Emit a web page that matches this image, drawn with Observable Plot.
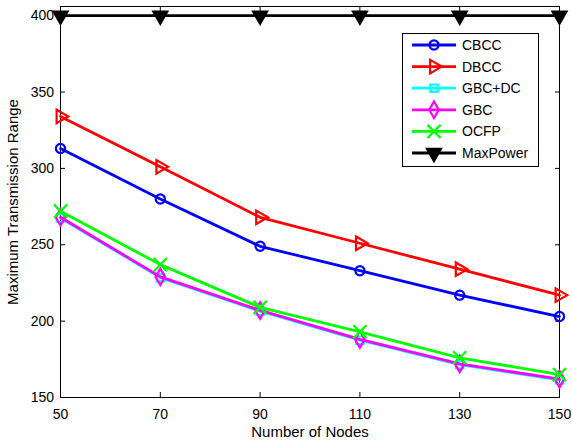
<!DOCTYPE html>
<html>
<head>
<meta charset="utf-8">
<script src="https://cdn.jsdelivr.net/npm/d3@7"></script>
<script src="https://cdn.jsdelivr.net/npm/@observablehq/plot@0.6"></script>
<style>
  body { margin: 0; background: #fff; }
  #chart svg { display: block; }
</style>
</head>
<body>
<div id="chart"></div>
<script>
// Number of nodes on the x axis
const nodes = [50, 70, 90, 110, 130, 150];
// Maximum transmission range per algorithm
const cbcc     = [313, 280, 249, 233, 217, 203];
const dbcc     = [334, 301, 268, 251, 234, 217];
const gbcdc    = [267.5, 228.5, 206.5, 187.5, 171.5, 161.5];
const gbc      = [268, 229, 207, 188, 172, 162];
const ocfp     = [272, 237, 209, 193, 176, 165];
const maxPower = [400, 400, 400, 400, 400, 400];
const yTicks   = [150, 200, 250, 300, 350, 400];

const series = [
  {name: "CBCC",     values: cbcc,     color: "#0000ff", symbol: "circle",   rotate: 0,   fill: "none",    r: 4.6},
  {name: "DBCC",     values: dbcc,     color: "#ff0000", symbol: "triangle", rotate: 90,  fill: "none",    r: 5.0},
  {name: "GBC+DC",   values: gbcdc,    color: "#00ffff", symbol: "square",   rotate: 0,   fill: "none",    r: 4.2},
  {name: "GBC",      values: gbc,      color: "#ff00ff", symbol: "diamond",  rotate: 0,   fill: "none",    r: 5.0},
  {name: "OCFP",     values: ocfp,     color: "#00ff00", symbol: "times",    rotate: 0,   fill: "none",    r: 6.0},
  {name: "MaxPower", values: maxPower, color: "#000000", symbol: "triangle", rotate: 180, fill: "#000000", r: 5.2}
];

const font = "'Liberation Sans', Arial, Helvetica, sans-serif";
const lineWidth = 2.8;

const seriesMarks = series.flatMap(s => {
  const rows = nodes.map((n, i) => ({nodes: n, value: s.values[i]}));
  return [
    Plot.line(rows, {x: "nodes", y: "value", stroke: s.color, strokeWidth: lineWidth}),
    Plot.dot(rows, {
      x: "nodes", y: "value", symbol: () => s.symbol, r: s.r,
      rotate: s.rotate, stroke: s.color, fill: s.fill, strokeWidth: 2.2
    })
  ];
});

const chart = Plot.plot({
  width: 572,
  height: 440,
  marginLeft: 60,
  marginRight: 13,
  marginTop: 6,
  marginBottom: 43,
  style: {fontFamily: font, fontSize: "14px", color: "#000", background: "#fff"},
  x: {domain: [50, 150]},
  y: {domain: [150, 406]},
  marks: [
    Plot.frame({stroke: "#000", strokeWidth: 1}),
    // tick labels
    Plot.axisX(nodes, {tickSize: 0, tickPadding: 12, label: null, fontSize: 14}),
    Plot.axisY(yTicks, {tickSize: 0, tickPadding: 6.5, label: null, fontSize: 14}),
    // inward tick marks on all four sides
    Plot.axisX(nodes, {anchor: "bottom", tickSize: -5, tickFormat: () => "", label: null}),
    Plot.axisX(nodes, {anchor: "top", tickSize: -5, tickFormat: () => "", label: null}),
    Plot.axisY(yTicks, {anchor: "left", tickSize: -5, tickFormat: () => "", label: null}),
    Plot.axisY(yTicks, {anchor: "right", tickSize: -5, tickFormat: () => "", label: null}),
    // axis titles
    Plot.text(["Number of Nodes"], {frameAnchor: "bottom", dy: 35, text: d => d, fontSize: 15, lineAnchor: "middle"}),
    Plot.text(["Maximum Transmission Range"], {frameAnchor: "left", dx: -47, rotate: -90, text: d => d, fontSize: 15, lineAnchor: "middle", textAnchor: "middle"}),
    ...seriesMarks
  ]
});

document.getElementById("chart").append(chart);

// Legend box in the upper right corner of the axes
const svg = d3.select(chart.tagName === "svg" ? chart : chart.querySelector("svg"));
const legend = svg.append("g")
  .attr("font-family", font).attr("font-size", 14).attr("text-anchor", "start");
legend.append("rect")
  .attr("x", 402.5).attr("y", 33.5).attr("width", 136).attr("height", 133)
  .attr("fill", "#fff").attr("stroke", "#000").attr("stroke-width", 1);

const symbolTypes = {
  circle: d3.symbolCircle, triangle: d3.symbolTriangle, square: d3.symbolSquare,
  diamond: d3.symbolDiamond, times: d3.symbolTimes
};

series.forEach((s, i) => {
  const cy = 45 + i * 21.6;
  const g = legend.append("g");
  g.append("line")
    .attr("x1", 412).attr("x2", 456).attr("y1", cy).attr("y2", cy)
    .attr("stroke", s.color).attr("stroke-width", lineWidth);
  g.append("path")
    .attr("d", d3.symbol(symbolTypes[s.symbol], Math.PI * s.r * s.r)())
    .attr("transform", `translate(434,${cy}) rotate(${s.rotate})`)
    .attr("fill", s.fill).attr("stroke", s.color).attr("stroke-width", 2.2);
  g.append("text")
    .attr("x", 462).attr("y", cy).attr("dy", "0.35em")
    .attr("fill", "#000").text(s.name);
});
</script>
</body>
</html>
